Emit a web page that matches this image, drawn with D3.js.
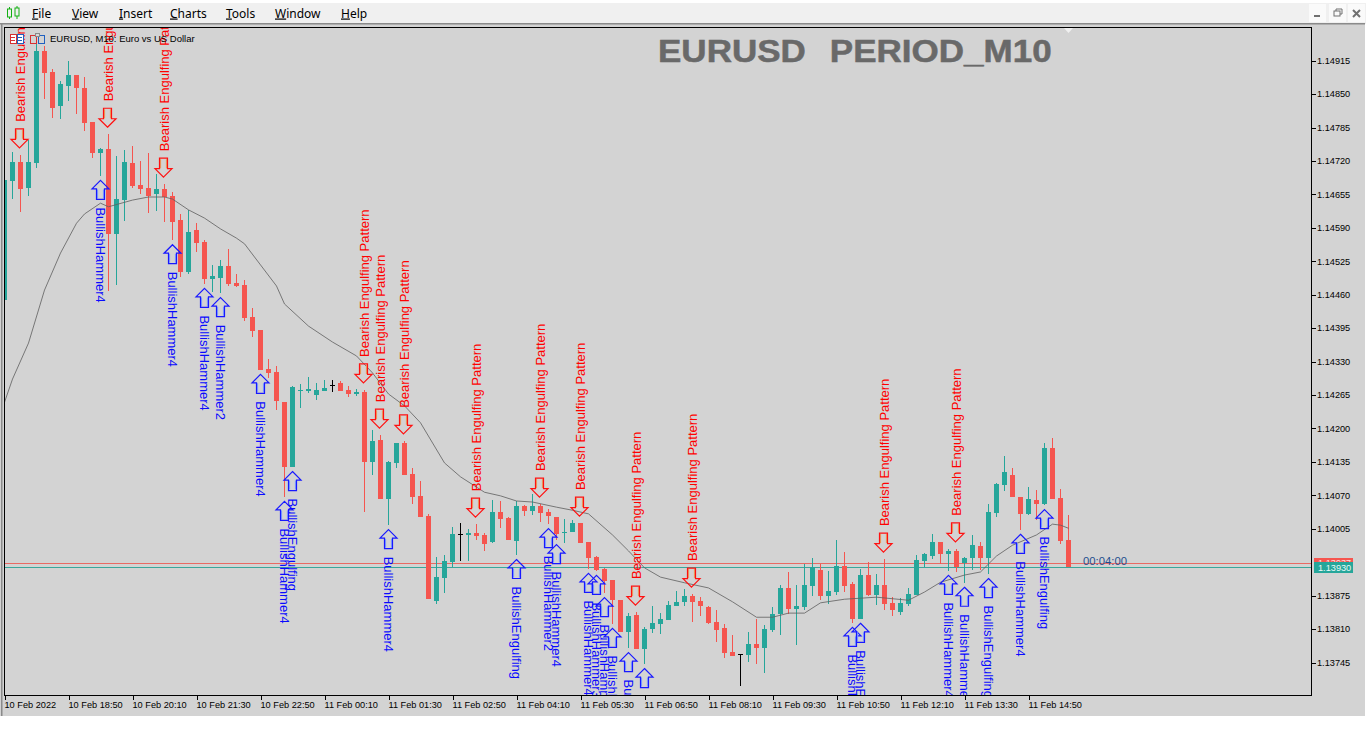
<!DOCTYPE html>
<html>
<head>
<meta charset="utf-8">
<title>EURUSD M10</title>
<script src="https://d3js.org/d3.v7.min.js"></script>
<style>
  html, body { margin: 0; padding: 0; background: #fff; }
  svg { display: block; }
  text { font-family: "Liberation Sans", Arial, sans-serif; }
  .ui text { font-family: "Noto Sans", sans-serif; }
  .axis text { font-size: 9.2px; fill: #000; }
  .axis path, .axis line { stroke: #000; shape-rendering: crispEdges; }
</style>
</head>
<body>
<div id="chart"></div>
<script>
// candles, one entry per 10 minute bar
const openPrices = [
  1.14450,1.14682,1.14718,1.14668,1.14717,1.14934,1.14893,1.14826,1.14866,1.14887,
  1.14862,1.14796,1.14736,1.14743,1.14578,1.14644,1.14716,1.14673,1.14667,1.14656,
  1.14665,1.14652,1.14605,1.14505,1.14586,1.14563,1.14491,1.14493,1.14516,1.14483,
  1.14479,1.14417,1.14391,1.14316,1.14310,1.14251,1.14126,1.14273,1.14273,1.14265,
  1.14273,1.14284,1.14288,1.14275,1.14267,1.14271,1.14135,1.14178,1.14063,1.14133,
  1.14172,1.14111,1.14069,1.14030,1.13865,1.13909,1.13940,1.13995,1.13993,1.13997,
  1.13993,1.13979,1.14038,1.14026,1.13981,1.14049,1.14040,1.14049,1.14038,1.14028,
  1.13997,1.13999,1.14016,1.13979,1.13950,1.13927,1.13905,1.13866,1.13804,1.13837,
  1.13771,1.13810,1.13820,1.13828,1.13855,1.13863,1.13874,1.13865,1.13853,1.13824,
  1.13812,1.13765,1.13761,1.13760,1.13781,1.13773,1.13808,1.13839,1.13890,1.13849,
  1.13853,1.13894,1.13925,1.13874,1.13882,1.13933,1.13898,1.13830,1.13915,1.13876,
  1.13896,1.13861,1.13843,1.13859,1.13876,1.13942,1.13952,1.13979,1.13956,1.13962,
  1.13938,1.13948,1.13971,1.13948,1.14036,1.14090,1.14110,1.14067,1.14034,1.14061,
  1.14053,1.14162,1.14065,1.13983
];
const closePrices = [
  1.14683,1.14718,1.14665,1.14718,1.14934,1.14892,1.14824,1.14870,1.14887,1.14861,
  1.14794,1.14736,1.14743,1.14578,1.14646,1.14718,1.14671,1.14665,1.14652,1.14665,
  1.14650,1.14602,1.14505,1.14582,1.14561,1.14491,1.14496,1.14516,1.14481,1.14477,
  1.14415,1.14389,1.14314,1.14308,1.14253,1.14126,1.14280,1.14275,1.14277,1.14275,
  1.14279,1.14284,1.14273,1.14267,1.14271,1.14135,1.14176,1.14063,1.14135,1.14172,
  1.14110,1.14067,1.14028,1.13868,1.13911,1.13942,1.13995,1.13995,1.13997,1.13991,
  1.13975,1.14038,1.14024,1.13983,1.14049,1.14040,1.14049,1.14036,1.14030,1.13995,
  1.13999,1.14016,1.13977,1.13948,1.13925,1.13903,1.13866,1.13804,1.13835,1.13771,
  1.13810,1.13822,1.13830,1.13857,1.13863,1.13874,1.13863,1.13855,1.13822,1.13808,
  1.13763,1.13758,1.13761,1.13781,1.13773,1.13810,1.13839,1.13890,1.13849,1.13855,
  1.13896,1.13931,1.13874,1.13884,1.13933,1.13894,1.13830,1.13915,1.13876,1.13896,
  1.13859,1.13847,1.13861,1.13878,1.13944,1.13956,1.13979,1.13956,1.13962,1.13931,
  1.13948,1.13973,1.13948,1.14038,1.14092,1.14115,1.14067,1.14034,1.14063,1.14053,
  1.14162,1.14063,1.13981,1.13931
];
const highPrices = [
  1.14683,1.14737,1.14732,1.14761,1.14951,1.14944,1.14899,1.14876,1.14914,1.14887,
  1.14883,1.14796,1.14745,1.14772,1.14730,1.14741,1.14749,1.14720,1.14736,1.14695,
  1.14675,1.14660,1.14617,1.14625,1.14599,1.14566,1.14518,1.14528,1.14549,1.14500,
  1.14489,1.14434,1.14391,1.14335,1.14321,1.14251,1.14283,1.14286,1.14300,1.14288,
  1.14294,1.14294,1.14292,1.14283,1.14277,1.14275,1.14197,1.14187,1.14137,1.14172,
  1.14176,1.14123,1.14098,1.14034,1.13950,1.13954,1.14008,1.14016,1.14005,1.14014,
  1.13997,1.14061,1.14059,1.14028,1.14059,1.14051,1.14073,1.14053,1.14043,1.14028,
  1.14024,1.14022,1.14016,1.13979,1.13952,1.13929,1.13905,1.13866,1.13841,1.13843,
  1.13814,1.13855,1.13841,1.13865,1.13884,1.13888,1.13878,1.13872,1.13855,1.13847,
  1.13820,1.13798,1.13761,1.13804,1.13830,1.13818,1.13853,1.13896,1.13921,1.13896,
  1.13936,1.13948,1.13936,1.13923,1.13983,1.13960,1.13901,1.13927,1.13940,1.13917,
  1.13946,1.13872,1.13870,1.13890,1.13954,1.13958,1.13995,1.13979,1.13966,1.13966,
  1.13950,1.13993,1.13979,1.14053,1.14094,1.14146,1.14123,1.14067,1.14086,1.14080,
  1.14172,1.14181,1.14082,1.14032
];
const lowPrices = [
  1.14450,1.14646,1.14621,1.14651,1.14707,1.14841,1.14804,1.14802,1.14837,1.14811,
  1.14778,1.14726,1.14691,1.14468,1.14479,1.14604,1.14667,1.14656,1.14619,1.14623,
  1.14602,1.14566,1.14495,1.14500,1.14544,1.14481,1.14465,1.14463,1.14477,1.14475,
  1.14409,1.14378,1.14314,1.14298,1.14236,1.14067,1.14125,1.14240,1.14269,1.14255,
  1.14273,1.14271,1.14273,1.14261,1.14264,1.14038,1.14110,1.14063,1.14012,1.14123,
  1.14110,1.14053,1.14028,1.13868,1.13859,1.13880,1.13931,1.13942,1.13942,1.13983,
  1.13962,1.13977,1.14006,1.13983,1.13954,1.14030,1.14032,1.14018,1.14014,1.13983,
  1.13977,1.13999,1.13977,1.13927,1.13923,1.13880,1.13820,1.13804,1.13773,1.13771,
  1.13742,1.13802,1.13800,1.13828,1.13855,1.13855,1.13824,1.13835,1.13820,1.13785,
  1.13754,1.13758,1.13699,1.13746,1.13742,1.13725,1.13804,1.13798,1.13839,1.13779,
  1.13847,1.13874,1.13866,1.13859,1.13876,1.13882,1.13822,1.13830,1.13874,1.13857,
  1.13847,1.13835,1.13837,1.13855,1.13876,1.13931,1.13946,1.13936,1.13923,1.13921,
  1.13900,1.13925,1.13925,1.13917,1.14028,1.14078,1.14067,1.14003,1.14032,1.14022,
  1.14051,1.14063,1.13975,1.13931
];

// moving average, read at these bars
const maBars = [0,1,3,5,7,9,10,12,13,16,18,20,21,23,25,27,29,30,32,34,35,38,41,44,46,48,50,52,55,57,60,62,
  64,66,69,71,73,76,78,80,82,85,88,91,94,96,98,100,102,105,109,113,115,117,120,122,124,126,129,131,132,133];
const maPrices = [1.14251,1.14296,1.14366,1.14469,1.14541,1.14599,1.14617,1.14638,1.14631,1.14644,1.14650,1.14650,
  1.14646,1.14625,1.14609,1.14588,1.14570,1.14559,1.14518,1.14477,1.14442,1.14399,1.14368,1.14341,1.14308,1.14267,
  1.14244,1.14211,1.14133,1.14106,1.14076,1.14069,1.14059,1.14057,1.14047,1.14041,1.14034,1.13993,1.13962,1.13929,
  1.13911,1.13900,1.13890,1.13863,1.13833,1.13833,1.13841,1.13841,1.13861,1.13868,1.13872,1.13866,1.13882,1.13901,
  1.13915,1.13921,1.13952,1.13973,1.13993,1.14014,1.14012,1.14006];

// pattern markers
const bearBars = [2,13,20,45,47,50,59,67,72,79,86,110,119];
const bearLabel = "Bearish Engulfing Pattern";
const bullBars = [12,21,25,27,32,35,36,48,64,68,69,73,74,75,76,78,80,106,107,118,120,123,127,130];
const bullLabels = ["BullishHammer4","BullishHammer4","BullishHammer4","BullishHammer2","BullishHammer4","BullishHammer4",
  "BullishEngulfing","BullishHammer4","BullishEngulfing","BullishHammer2","BullishHammer4","BullishHammer4","BullishHammer3",
  "BullishHammer4","BullishHammer4","BullishHammer4","BullishHammer4","BullishEngulfing","BullishEngulfing","BullishHammer4",
  "BullishHammer4","BullishEngulfing","BullishHammer4","BullishEngulfing"];

// axis ticks
const timeBars = [0,8,16,24,32,40,48,56,64,72,80,88,96,104,112,120,128];
const timeLabels = ["10 Feb 2022","10 Feb 18:50","10 Feb 20:10","10 Feb 21:30","10 Feb 22:50","11 Feb 00:10","11 Feb 01:30",
  "11 Feb 02:50","11 Feb 04:10","11 Feb 05:30","11 Feb 06:50","11 Feb 08:10","11 Feb 09:30","11 Feb 10:50","11 Feb 12:10",
  "11 Feb 13:30","11 Feb 14:50"];
const priceTicks = [1.14915,1.14850,1.14785,1.14720,1.14655,1.14590,1.14525,1.14460,1.14395,1.14330,1.14265,1.14200,
  1.14135,1.14070,1.14005,1.13875,1.13810,1.13745];
const askPrice = 1.13937;
const bidPrice = 1.13930;

const menuItems = ["File","View","Insert","Charts","Tools","Window","Help"];
const menuX = [32,72,119,170,226,275,341];

const TEAL = "#26a69a", RED = "#f5554f", BG = "#d3d3d3";
const width = 1366, height = 738;
const plot = { left: 4, top: 27, right: 1311, bottom: 695 };

const svg = d3.select("#chart").append("svg").attr("width", width).attr("height", height);

const x = d3.scaleLinear().domain([0, 133]).range([4.5, 1068.5]);
const y = d3.scaleLinear().domain([1.14915, 1.13745]).range([60.7, 662.5]);

// window background and menu
svg.append("rect").attr("x", 0).attr("y", 3).attr("width", 1366).attr("height", 21).attr("fill", "#f0f0f0");
svg.append("rect").attr("x", 0).attr("y", 23).attr("width", 1365).attr("height", 693).attr("fill", BG);
svg.append("rect").attr("x", 0).attr("y", 23).attr("width", 1365).attr("height", 1.5).attr("fill", "#8a8a8a");
svg.append("rect").attr("x", 1).attr("y", 23).attr("width", 1.5).attr("height", 693).attr("fill", "#8a8a8a");

const menu = svg.append("g").attr("class", "ui");
menu.selectAll("text").data(menuItems).join("text")
  .attr("x", (d, i) => menuX[i]).attr("y", 17.5)
  .style("font-size", "12px").attr("fill", "#000")
  .each(function (d) {
    d3.select(this).append("tspan").style("text-decoration", "underline").text(d[0]);
    d3.select(this).append("tspan").text(d.slice(1));
  });

// little green candles in the menu corner
[[9.5, 9, 17, 6, 19], [17, 8, 16, 5, 19]].forEach(([cx, t, b, w0, w1]) => {
  svg.append("line").attr("x1", cx).attr("x2", cx).attr("y1", w0 + 1).attr("y2", w1).attr("stroke", "#12b012");
  svg.append("rect").attr("x", cx - 2).attr("y", t).attr("width", 4).attr("height", b - t)
    .attr("fill", "#f0f0f0").attr("stroke", "#12b012");
});

// minimize / restore / close
[1309, 1329, 1348].forEach((bx) => {
  svg.append("rect").attr("x", bx).attr("y", 4).attr("width", 17).attr("height", 18).attr("fill", "#fafafa");
});
svg.append("rect").attr("x", 1314).attr("y", 15).attr("width", 6).attr("height", 2).attr("fill", "#707070");
svg.append("rect").attr("x", 1334).attr("y", 11).attr("width", 6).attr("height", 5).attr("fill", "none").attr("stroke", "#707070");
svg.append("path").attr("d", "M1336 11V9H1342V14H1340").attr("fill", "none").attr("stroke", "#707070");
svg.append("path").attr("d", "M1353 10L1360 17M1360 10L1353 17").attr("stroke", "#707070").attr("stroke-width", 2);

// clip for the plot area
svg.append("clipPath").attr("id", "plot-clip").append("rect")
  .attr("x", plot.left).attr("y", plot.top)
  .attr("width", plot.right - plot.left).attr("height", plot.bottom - plot.top);
const chart = svg.append("g").attr("clip-path", "url(#plot-clip)");

// ask and bid lines sit behind the candles
[[askPrice, "#e86a64"], [bidPrice, "#3aa79b"]].forEach(([p, c]) => {
  chart.append("line").attr("x1", plot.left).attr("x2", plot.right)
    .attr("y1", y(p)).attr("y2", y(p)).attr("stroke", c).style("shape-rendering", "crispEdges");
});

// candles
const bars = d3.range(openPrices.length);
const barColor = (i) => closePrices[i] === openPrices[i] ? "#000" : (closePrices[i] > openPrices[i] ? TEAL : RED);
const candleLayer = chart.append("g").style("shape-rendering", "crispEdges");
candleLayer.selectAll("line.wick").data(bars).join("line").attr("class", "wick")
  .attr("x1", (i) => Math.floor(x(i)) + 0.5).attr("x2", (i) => Math.floor(x(i)) + 0.5)
  .attr("y1", (i) => y(highPrices[i])).attr("y2", (i) => y(lowPrices[i]))
  .attr("stroke", barColor);
candleLayer.selectAll("rect.body").data(bars).join("rect").attr("class", "body")
  .attr("x", (i) => Math.floor(x(i)) - 2)
  .attr("y", (i) => y(Math.max(openPrices[i], closePrices[i])))
  .attr("width", 5)
  .attr("height", (i) => Math.max(1, Math.abs(y(openPrices[i]) - y(closePrices[i]))))
  .attr("fill", barColor);

// moving average
const maLine = d3.line().x((d, i) => x(maBars[i])).y((d) => y(d));
chart.append("path").attr("d", maLine(maPrices)).attr("fill", "none").attr("stroke", "#5e5e5e").attr("stroke-width", 0.8);

// hollow arrow shape, tip at 0,0 pointing up (flipped for the bearish ones)
const arrowShape = "M0 0L8.5 8.5H4V19H-4V8.5H-8.5Z";
const arrowInner = "M-3 9V18M3 9V18";

bearBars.forEach((b) => {
  const ax = x(b) - 1, tip = y(highPrices[b]) - 7;
  const g = chart.append("g").attr("transform", `translate(${ax},${tip}) scale(1,-1)`);
  g.append("path").attr("d", arrowInner).attr("stroke", "#e8a060").attr("stroke-width", 1.2).attr("fill", "none");
  g.append("path").attr("d", arrowShape).attr("fill", "none").attr("stroke", "#ff1010").attr("stroke-width", 1.2);
  chart.append("text").attr("transform", `translate(${ax + 1},${tip - 26}) rotate(-90)`)
    .attr("dy", "0.36em").attr("fill", "#ff0000").style("font-size", "13px").text(bearLabel);
});

bullBars.forEach((b, n) => {
  const ax = x(b), tip = y(lowPrices[b]) + 4.5;
  const g = chart.append("g").attr("transform", `translate(${ax},${tip})`);
  g.append("path").attr("d", arrowInner).attr("stroke", "#7fa0ff").attr("stroke-width", 1.2).attr("fill", "none");
  g.append("path").attr("d", arrowShape).attr("fill", "none").attr("stroke", "#1818ff").attr("stroke-width", 1.2);
  chart.append("text").attr("transform", `translate(${ax},${tip + 27}) rotate(90)`)
    .attr("dy", "0.36em").attr("fill", "#0a0aff").style("font-size", "13px").text(bullLabels[n]);
});

// title and countdown
svg.append("text").attr("transform", "translate(658,62.3) scale(1.13,1)").attr("fill", "#696969")
  .attr("stroke", "#696969").attr("stroke-width", 0.5)
  .style("white-space", "pre").style("word-spacing", "2px")
  .style("font-size", "31px").style("font-weight", "bold").text("EURUSD  PERIOD_M10");
svg.append("path").attr("d", "M1064 28H1073L1068.5 33Z").attr("fill", "#f0f0f0");
svg.append("text").attr("x", 1083).attr("y", 565).attr("fill", "#1f4f8f")
  .style("font-size", "11.3px").text("00:04:00");

// plot frame with axes
svg.append("rect").attr("x", plot.left + 0.5).attr("y", plot.top + 0.5)
  .attr("width", plot.right - plot.left).attr("height", plot.bottom - plot.top)
  .attr("fill", "none").attr("stroke", "#000").style("shape-rendering", "crispEdges");

const xAxis = d3.axisBottom(x).tickValues(timeBars).tickSize(4).tickSizeOuter(0)
  .tickFormat((d, i) => timeLabels[i]);
const xAxisG = svg.append("g").attr("class", "axis").attr("transform", `translate(0,${plot.bottom + 0.5})`).call(xAxis);
xAxisG.select(".domain").remove();
xAxisG.selectAll("text").attr("text-anchor", "start").attr("x", -0.5).attr("y", 6);

const yAxis = d3.axisRight(y).tickValues(priceTicks).tickSize(4).tickSizeOuter(0).tickFormat(d3.format(".5f"));
const yAxisG = svg.append("g").attr("class", "axis").attr("transform", `translate(${plot.right + 0.5},0)`).call(yAxis);
yAxisG.select(".domain").remove();
yAxisG.selectAll("text").attr("x", 5.5).attr("dy", "0.3em");

// current ask and bid flags on the price scale
svg.append("rect").attr("x", 1314).attr("y", 558).attr("width", 39).attr("height", 11).attr("fill", RED);
svg.append("text").attr("x", 1318).attr("y", 566).attr("fill", "#ffe0e0")
  .style("font-size", "9.2px").text(d3.format(".5f")(askPrice));
svg.append("rect").attr("x", 1314).attr("y", 562).attr("width", 39).attr("height", 11).attr("fill", TEAL);
svg.append("text").attr("x", 1318).attr("y", 571).attr("fill", "#eafaf8")
  .style("font-size", "9.2px").text(d3.format(".5f")(bidPrice));

// chart title row with its two little icons
const icons = svg.append("g").style("shape-rendering", "crispEdges");
icons.append("rect").attr("x", 10).attr("y", 34).attr("width", 6).attr("height", 9).attr("fill", "#fff").attr("stroke", "#d83030");
icons.append("rect").attr("x", 17).attr("y", 34).attr("width", 6).attr("height", 9).attr("fill", "#fff").attr("stroke", "#2060c0");
icons.append("path").attr("d", "M11 37H15M11 40H15").attr("stroke", "#d83030");
icons.append("path").attr("d", "M18 37H22M18 40H22").attr("stroke", "#2060c0");
icons.append("rect").attr("x", 30).attr("y", 35).attr("width", 6).attr("height", 8).attr("fill", "none").attr("stroke", "#d83030");
icons.append("rect").attr("x", 38).attr("y", 35).attr("width", 6).attr("height", 8).attr("fill", "none").attr("stroke", "#2060c0");
icons.append("rect").attr("x", 35).attr("y", 33).attr("width", 4).attr("height", 3).attr("fill", "#d8d8d8").attr("stroke", "#888");
svg.append("text").attr("x", 50).attr("y", 42).attr("fill", "#000")
  .style("font-size", "9.5px").text("EURUSD, M10:  Euro vs US Dollar");
</script>
</body>
</html>
